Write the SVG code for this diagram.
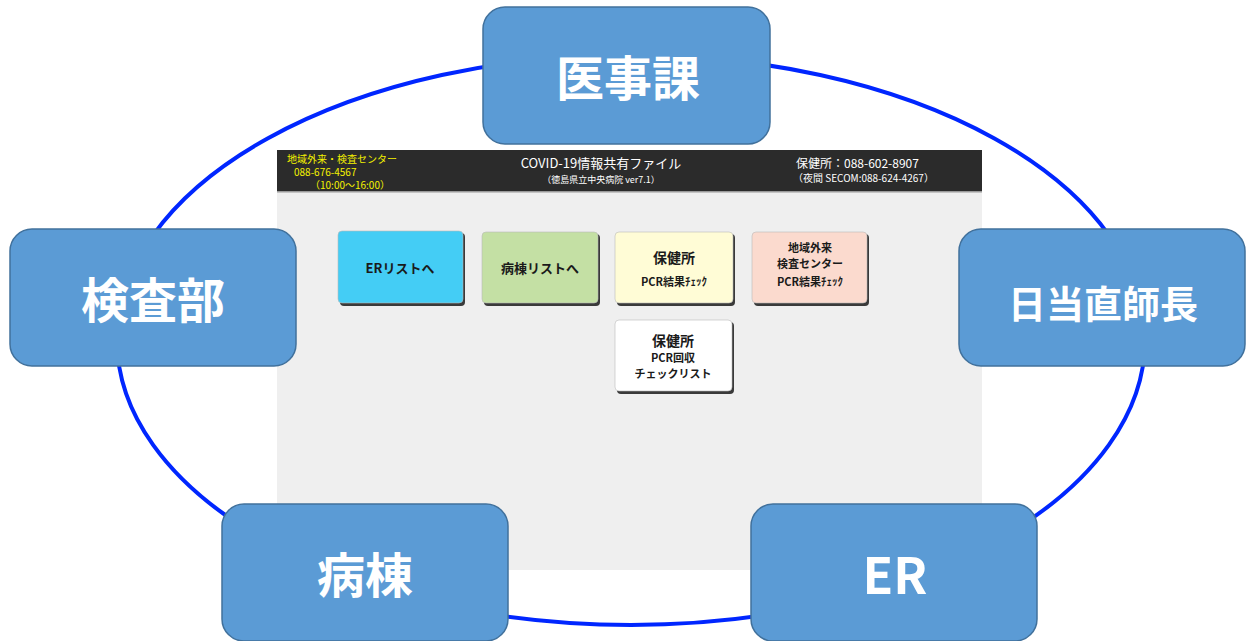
<svg xmlns="http://www.w3.org/2000/svg" width="1247" height="641" viewBox="0 0 1247 641">
<defs>
<style>
.node{fill:#5b9bd5;stroke:#41719c;stroke-width:1.5}
.nt{fill:#ffffff;font-family:"Noto Sans CJK JP","Noto Sans",sans-serif;font-weight:bold;text-anchor:middle;dominant-baseline:central}
.conn{fill:none;stroke:#0026ff;stroke-width:4}
.hy{fill:#f4f200;font-family:"Noto Sans CJK JP",sans-serif;font-size:10px}
.hw{fill:#ffffff;font-family:"Noto Sans CJK JP",sans-serif}
.btn{stroke:#bbbbbb;stroke-width:0.6}
.sh{fill:#3a3a3a}
.bt{font-family:"Noto Sans CJK JP",sans-serif;font-weight:bold;text-anchor:middle;fill:#1a1a1a}
</style>
</defs>
<rect width="1247" height="641" fill="#ffffff"/>
<g id="connectors">
<ellipse class="conn" cx="631" cy="340" rx="514" ry="285"/>
</g>
<g id="screen">
<rect x="277" y="150" width="705" height="420" fill="#efefef"/>
<rect x="277" y="150" width="705" height="41" fill="#2b2b2b"/>
<rect x="277" y="191" width="705" height="1.5" fill="#9a9a9a"/>
<text class="hy" x="287" y="163">地域外来・検査センター</text>
<text class="hy" x="294" y="176">088-676-4567</text>
<text class="hy" x="310" y="189">（10:00～16:00）</text>
<text class="hw" x="601" y="168" font-size="13" text-anchor="middle">COVID-19情報共有ファイル</text>
<text class="hw" x="601" y="183" font-size="9" text-anchor="middle">（徳島県立中央病院 ver7.1）</text>
<text class="hw" x="796" y="168" font-size="12">保健所：088-602-8907</text>
<text class="hw" x="793" y="182" font-size="10">（夜間 SECOM:088-624-4267）</text>
<g id="btn-er">
<rect class="sh" x="340" y="233" width="125" height="73" rx="4"/>
<rect class="btn" x="338" y="231" width="125" height="72" rx="4" fill="#44cdf5"/>
<text class="bt" x="400" y="273" font-size="13" fill="#13244a">ERリストへ</text>
</g>
<g id="btn-ward">
<rect class="sh" x="484" y="234" width="116" height="72" rx="4"/>
<rect class="btn" x="482" y="232" width="116" height="71" rx="4" fill="#c4e0a4"/>
<text class="bt" x="540" y="273" font-size="13">病棟リストへ</text>
</g>
<g id="btn-hc-pcr">
<rect class="sh" x="617" y="234" width="118" height="72" rx="4"/>
<rect class="btn" x="615" y="232" width="118" height="71" rx="4" fill="#fffcd6"/>
<text class="bt" x="674" y="263" font-size="14">保健所</text>
<text class="bt" x="674" y="286" font-size="11" font-weight="normal">PCR結果ﾁｪｯｸ</text>
</g>
<g id="btn-center-pcr">
<rect class="sh" x="754" y="234" width="115" height="72" rx="4"/>
<rect class="btn" x="752" y="232" width="115" height="71" rx="4" fill="#fbdace"/>
<text class="bt" x="810" y="252" font-size="11" font-weight="normal">地域外来</text>
<text class="bt" x="810" y="268" font-size="11" font-weight="normal">検査センター</text>
<text class="bt" x="810" y="286" font-size="11" font-weight="normal">PCR結果ﾁｪｯｸ</text>
</g>
<g id="btn-hc-collect">
<rect class="sh" x="617" y="322" width="117" height="72" rx="4"/>
<rect class="btn" x="615" y="320" width="117" height="71" rx="4" fill="#ffffff"/>
<text class="bt" x="673" y="346" font-size="14">保健所</text>
<text class="bt" x="673" y="362" font-size="11">PCR回収</text>
<text class="bt" x="673" y="378" font-size="11">チェックリスト</text>
</g>
</g>
<g id="node-ijika">
<rect class="node" x="483" y="7" width="287" height="137" rx="22"/>
<text class="nt" x="628" y="75" font-size="48">医事課</text>
</g>
<g id="node-kensabu">
<rect class="node" x="10" y="229" width="286" height="137" rx="22"/>
<text class="nt" x="153" y="297" font-size="48">検査部</text>
</g>
<g id="node-nitchoku">
<rect class="node" x="959" y="229" width="286" height="137" rx="22"/>
<text class="nt" x="1103" y="301" font-size="38">日当直師長</text>
</g>
<g id="node-byoto">
<rect class="node" x="222" y="504" width="286" height="137" rx="22"/>
<text class="nt" x="365" y="572" font-size="48">病棟</text>
</g>
<g id="node-er">
<rect class="node" x="751" y="504" width="286" height="137" rx="22"/>
<text class="nt" x="895" y="572" font-size="50" font-weight="normal">ER</text>
</g>
</svg>
